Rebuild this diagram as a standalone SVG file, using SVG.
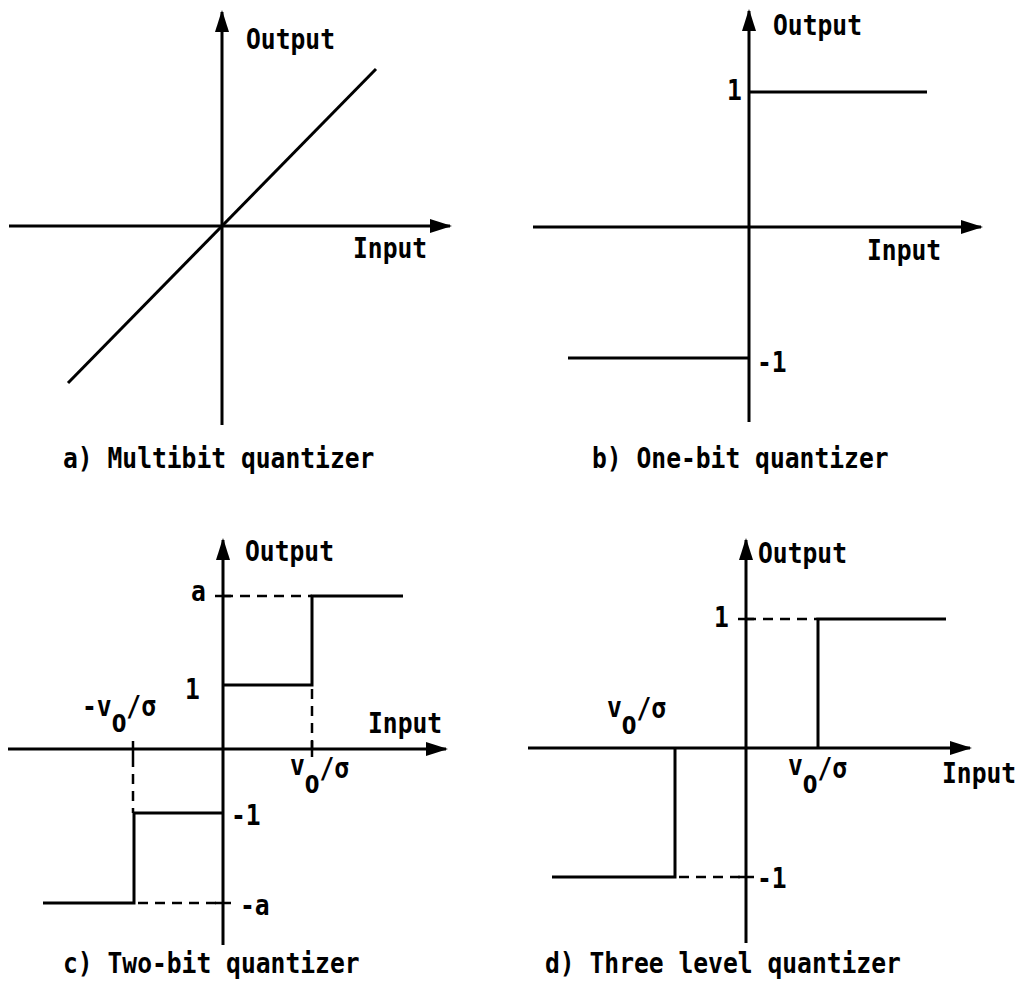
<svg xmlns="http://www.w3.org/2000/svg" width="1015" height="1007" viewBox="0 0 1015 1007">
<style>
.ax{stroke:#000;stroke-width:3;fill:none}
.ln{stroke:#000;stroke-width:3;fill:none}
.ds{stroke:#000;stroke-width:2.5;fill:none;stroke-dasharray:10 7}
.tk{stroke:#000;stroke-width:2.5}
text{font-family:"DejaVu Sans Mono","Liberation Mono",monospace;font-weight:bold;font-size:28px;fill:#000}
.z{font-family:"DejaVu Sans","Liberation Sans",sans-serif;font-size:24px}
</style>
<defs>
<marker id="ah" markerUnits="userSpaceOnUse" markerWidth="22" markerHeight="14" refX="20" refY="7" orient="auto">
<path d="M0,0 L22,7 L0,14 Z" fill="#000"/>
</marker>
</defs>
<rect width="1015" height="1007" fill="#fff"/>

<g id="panel-a">
<g id="a-connectors">
<line class="ax" x1="222" y1="425" x2="222" y2="12" marker-end="url(#ah)"/>
<line class="ax" x1="9" y1="226" x2="450" y2="226" marker-end="url(#ah)"/>
<line class="ln" x1="68" y1="383" x2="376" y2="69"/>
</g>
<text transform="translate(246,49) scale(0.88,1)">Output</text>
<text transform="translate(353,258) scale(0.88,1)">Input</text>
<text transform="translate(63,468) scale(0.88,1)">a) Multibit quantizer</text>
</g>

<g id="panel-b">
<g id="b-connectors">
<line class="ax" x1="749" y1="422" x2="749" y2="11" marker-end="url(#ah)"/>
<line class="ax" x1="533" y1="227" x2="981" y2="227" marker-end="url(#ah)"/>
<line class="ln" x1="749" y1="92" x2="927" y2="92"/>
<line class="ln" x1="568" y1="358" x2="749" y2="358"/>
</g>
<text transform="translate(773,35) scale(0.88,1)">Output</text>
<text transform="translate(867,260) scale(0.88,1)">Input</text>
<text transform="translate(727,100) scale(0.88,1)">1</text>
<text transform="translate(757,372) scale(0.88,1)">-1</text>
<text transform="translate(592,468) scale(0.88,1)">b) One-bit quantizer</text>
</g>

<g id="panel-c">
<g id="c-connectors">
<line class="ax" x1="223" y1="945" x2="223" y2="540" marker-end="url(#ah)"/>
<line class="ax" x1="8" y1="749" x2="446" y2="749" marker-end="url(#ah)"/>
<line class="ds" x1="223" y1="596" x2="312" y2="596"/>
<polyline class="ln" points="223,685 312,685 312,596 403,596"/>
<line class="ds" x1="312" y1="689" x2="312" y2="749"/>
<line class="tk" x1="312" y1="741" x2="312" y2="757"/>
<line class="tk" x1="215" y1="596" x2="231" y2="596"/>
<line class="ds" x1="133" y1="757" x2="133" y2="813"/>
<line class="tk" x1="133" y1="741" x2="133" y2="757"/>
<polyline class="ln" points="223,813 134,813 134,903 43,903"/>
<line class="ds" x1="138" y1="903" x2="223" y2="903"/>
<line class="tk" x1="215" y1="903" x2="231" y2="903"/>
</g>
<text transform="translate(245,561) scale(0.88,1)">Output</text>
<text transform="translate(368,733) scale(0.88,1)">Input</text>
<text transform="translate(191,601) scale(0.88,1)">a</text>
<text transform="translate(185,699) scale(0.88,1)">1</text>
<text transform="translate(231,825) scale(0.88,1)">-1</text>
<text transform="translate(240,915) scale(0.88,1)">-a</text>
<text transform="translate(82,716) scale(0.88,1)">-v<tspan class="z" dy="16">0</tspan><tspan dy="-16">/σ</tspan></text>
<text transform="translate(290,775) scale(0.88,1)">v<tspan class="z" dy="18">0</tspan><tspan dy="-15">/σ</tspan></text>
<text transform="translate(63,973) scale(0.88,1)">c) Two-bit quantizer</text>
</g>

<g id="panel-d">
<g id="d-connectors">
<line class="ax" x1="746" y1="943" x2="746" y2="540" marker-end="url(#ah)"/>
<line class="ax" x1="528" y1="748" x2="970" y2="748" marker-end="url(#ah)"/>
<line class="ds" x1="746" y1="619" x2="817" y2="619"/>
<line class="tk" x1="738" y1="619" x2="754" y2="619"/>
<polyline class="ln" points="818,748 818,619 946,619"/>
<polyline class="ln" points="675,748 675,877 552,877"/>
<line class="ds" x1="679" y1="877" x2="746" y2="877"/>
<line class="tk" x1="738" y1="877" x2="754" y2="877"/>
</g>
<text transform="translate(758,563) scale(0.88,1)">Output</text>
<text transform="translate(942,783) scale(0.88,1)">Input</text>
<text transform="translate(714,627) scale(0.88,1)">1</text>
<text transform="translate(757,888) scale(0.88,1)">-1</text>
<text transform="translate(607,717) scale(0.88,1)">v<tspan class="z" dy="17">0</tspan><tspan dy="-16">/σ</tspan></text>
<text transform="translate(788,775) scale(0.88,1)">v<tspan class="z" dy="18">0</tspan><tspan dy="-15">/σ</tspan></text>
<text transform="translate(545,973) scale(0.88,1)">d) Three level quantizer</text>
</g>
</svg>
